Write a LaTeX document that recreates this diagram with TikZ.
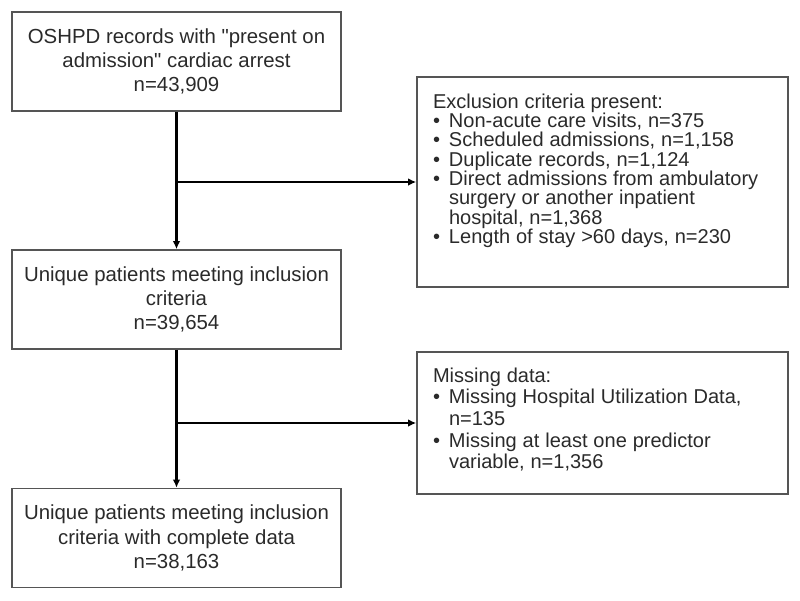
\documentclass[tikz,border=0pt]{standalone}
\usepackage{fontspec}
\setmainfont{Liberation Sans}
\usepackage{tikz}
\usetikzlibrary{arrows.meta,positioning}
\definecolor{Ink}{HTML}{2A2A2A}
\definecolor{Frame}{HTML}{555555}
\newcommand{\bitem}[1]{\par\hangindent=0.32cm\hangafter=1\noindent
  \makebox[0.32cm][l]{\textbullet}#1}

\begin{document}
\begin{tikzpicture}[
  stage/.style={draw=Frame,line width=0.9pt,text=Ink,align=center,
    minimum width=6.58cm,minimum height=1.98cm,inner sep=1mm,
    font=\fontsize{11.6}{13.8}\selectfont},
  dropped/.style={draw=Frame,line width=0.9pt,text=Ink,
    text width=6.78cm,inner xsep=0.32cm,inner ysep=1mm,
    minimum height=#1},
  arr/.style={-{Latex[length=1.6mm,width=1.5mm]},line width=1.2pt,color=black}
]
\useasboundingbox (0,0) rectangle (16,-12);

% Main flow of patient records.
\node[stage] (rec) at (3.53,-1.23)
  {OSHPD records with \textquotedbl present on\\
   admission\textquotedbl{} cardiac arrest\\n=43,909};
\node[stage] (uniq) at (3.53,-5.99)
  {Unique patients meeting inclusion\\criteria\\n=39,654};
\node[stage] (compl) at (3.53,-10.76)
  {Unique patients meeting inclusion\\criteria with complete data\\n=38,163};

% Boxes of removed records.
\node[dropped=4.2cm] (excl) at (12.05,-3.64)
  {\fontsize{11.4}{11}\selectfont\raggedright\noindent
   Exclusion criteria present:
   \bitem{Non-acute care visits, n=375}
   \bitem{Scheduled admissions, n=1,158}
   \bitem{Duplicate records, n=1,124}
   \bitem{Direct admissions from ambulatory\newline
     surgery or another inpatient\newline hospital, n=1,368}
   \bitem{Length of stay >60 days, n=230}\par
   \vspace*{0.46cm}};
\node[dropped=2.84cm] (miss) at (12.05,-8.46)
  {\fontsize{11.4}{12.3}\selectfont\raggedright\noindent
   Missing data:
   \bitem{Missing Hospital Utilization Data,\newline n=135}
   \bitem{Missing at least one predictor\newline variable, n=1,356}\par
   \vspace*{0.14cm}};

\draw[arr] (rec.south) -- (uniq.north);
\draw[arr] (rec.south |- excl.west) -- (excl.west);
\draw[arr] (uniq.south) -- (compl.north);
\draw[arr] (uniq.south |- miss.west) -- (miss.west);
\end{tikzpicture}
\end{document}
